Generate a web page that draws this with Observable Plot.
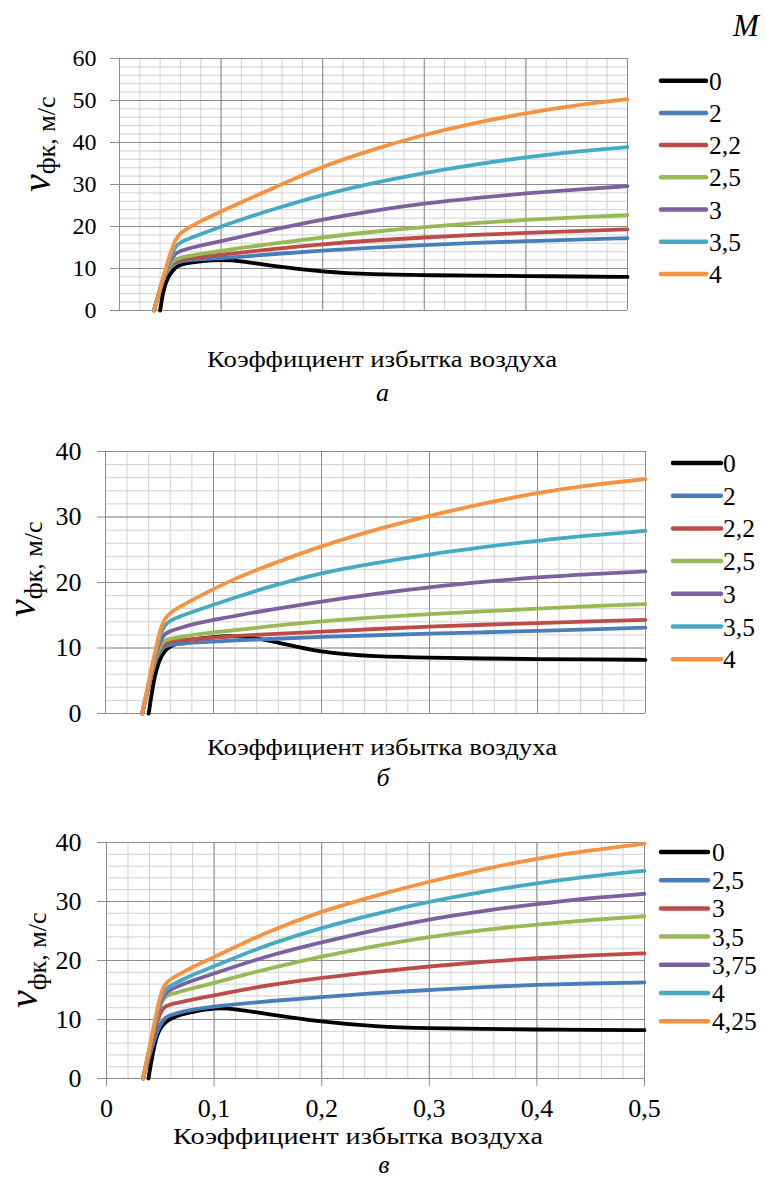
<!DOCTYPE html>
<html><head><meta charset="utf-8">
<script src="https://cdn.jsdelivr.net/npm/d3@7"></script>
<script src="https://cdn.jsdelivr.net/npm/@observablehq/plot@0.6"></script>
<style>
html,body{margin:0;padding:0;background:#fff;}
#root{position:relative;width:766px;height:1180px;overflow:hidden;background:#fff;font-family:"Liberation Serif";}
#root svg{position:absolute;left:0;}
#root svg text, #root svg tspan{font-family:"Liberation Serif" !important;}
</style></head><body><div id="root"></div>
<script>
// ---------- shared ----------
const palette = ["#000000","#4A7EBB","#BE4B48","#98B954","#7D60A0","#46AAC5","#F69240"];
const labelsA = ["0","2","2,2","2,5","3","3,5","4"];
const labelsB = ["0","2","2,2","2,5","3","3,5","4"];
const labelsC = ["0","2,5","3","3,5","3,75","4","4,25"];
const xMajor = [0,0.1,0.2,0.3,0.4,0.5];
const xMinor = d3.range(0,51,2).map(d=>d/100);
const yMajorA = [0,10,20,30,40,50,60];
const yMajorBC = [0,10,20,30,40];
const axisTitle = "Коэффициент избытка воздуха";

// ---------- chart a ----------
const xA0 = [0.04,0.043,0.048,0.055,0.06,0.07,0.08,0.1,0.12,0.15,0.2,0.25,0.3,0.35,0.4,0.45,0.5];
const xA  = [0.034,0.043,0.05,0.055,0.06,0.07,0.08,0.1,0.12,0.15,0.2,0.25,0.3,0.35,0.4,0.45,0.5];
const a_0   = [0,4.8,8.3,10.3,10.9,11.4,11.8,12.1,11.8,10.6,9.2,8.6,8.4,8.3,8.2,8.1,8.0];
const a_2   = [0,7.8,10.7,11.4,11.7,12.0,12.2,12.5,12.8,13.4,14.3,15.0,15.6,16.1,16.5,16.9,17.2];
const a_2_2 = [0,7.8,11.0,11.8,12.1,12.5,12.8,13.3,13.8,14.6,15.8,16.7,17.4,18.0,18.5,18.9,19.3];
const a_2_5 = [0,7.8,11.3,12.2,12.6,13.1,13.5,14.2,14.9,15.9,17.4,18.8,19.9,20.8,21.6,22.2,22.7];
const a_3   = [0,7.8,12.0,13.6,14.2,14.9,15.5,16.5,17.6,19.2,21.7,23.8,25.5,26.8,27.9,28.8,29.6];
const a_3_5 = [0,7.9,12.5,15.3,16.3,17.3,18.2,20.0,21.7,24.0,27.6,30.4,32.8,34.8,36.5,37.9,38.9];
const a_4   = [0,8.0,13.6,17.0,18.5,20.0,21.3,23.6,25.8,29.0,34.4,38.4,41.9,44.7,47.0,48.9,50.3];

// ---------- chart б ----------
const xB0 = [0.04,0.045,0.05,0.055,0.06,0.07,0.08,0.1,0.12,0.15,0.2,0.25,0.3,0.35,0.4,0.45,0.5];
const xB  = [0.034,0.044,0.05,0.055,0.06,0.07,0.08,0.1,0.12,0.15,0.2,0.25,0.3,0.35,0.4,0.45,0.5];
const b_0   = [0,5.5,8.3,9.6,10.3,10.9,11.3,11.7,11.9,11.3,9.2,8.7,8.5,8.4,8.3,8.25,8.2];
const b_2   = [0,7.0,9.7,10.3,10.5,10.65,10.8,11.0,11.15,11.35,11.7,11.95,12.2,12.4,12.6,12.85,13.1];
const b_2_2 = [0,7.2,10.0,10.8,11.0,11.2,11.35,11.6,11.85,12.1,12.5,12.9,13.3,13.55,13.8,14.05,14.3];
const b_2_5 = [0,7.3,10.3,11.2,11.4,11.7,12.0,12.4,12.7,13.3,14.1,14.7,15.2,15.6,16.0,16.4,16.7];
const b_3   = [0,7.5,11.0,12.2,12.6,13.1,13.6,14.3,14.9,15.8,17.1,18.3,19.3,20.1,20.8,21.3,21.7];
const b_3_5 = [0,7.5,11.8,13.6,14.2,14.9,15.5,16.6,17.7,19.3,21.5,23.0,24.3,25.4,26.4,27.2,27.9];
const b_4   = [0,8.0,12.6,14.6,15.4,16.4,17.3,19.0,20.6,22.6,25.6,28.1,30.2,32.1,33.7,34.9,35.8];

// ---------- chart в ----------
const xC0 = [0.039,0.045,0.05,0.055,0.06,0.07,0.08,0.1,0.12,0.15,0.2,0.25,0.3,0.35,0.4,0.45,0.5];
const xC  = [0.034,0.044,0.05,0.055,0.06,0.07,0.08,0.1,0.12,0.15,0.2,0.25,0.3,0.35,0.4,0.45,0.5];
const c_0    = [0,6.5,8.6,9.6,10.2,10.9,11.3,12.0,11.8,10.9,9.6,8.8,8.5,8.4,8.3,8.25,8.2];
const c_2_5  = [0,6.5,9.3,10.4,10.8,11.3,11.7,12.2,12.6,13.1,13.8,14.5,15.0,15.5,15.9,16.1,16.3];
const c_3    = [0,7.5,11.5,12.3,12.6,13.0,13.4,14.1,14.8,15.8,17.1,18.1,19.0,19.8,20.4,20.9,21.2];
const c_3_5  = [0,8.2,12.8,14.0,14.3,14.8,15.3,16.2,17.2,18.6,20.7,22.5,24.0,25.2,26.1,26.9,27.5];
const c_3_75 = [0,8.3,13.0,14.6,15.1,15.9,16.6,17.8,19.0,20.8,23.1,25.2,27.0,28.4,29.6,30.6,31.3];
const c_4    = [0,8.5,13.5,15.2,15.8,16.7,17.6,19.0,20.5,22.7,25.6,27.9,30.0,31.7,33.1,34.3,35.2];
const c_4_25 = [0,8.8,14.5,16.2,16.9,17.9,18.9,20.6,22.3,24.9,28.4,31.0,33.4,35.5,37.3,38.7,39.8];

function rowsOf(labels, xs, ys) {
  const out = [];
  labels.forEach((s, i) => xs[i].forEach((x, j) => out.push({s, x, y: ys[i][j]})));
  return out;
}
const rowsA = rowsOf(labelsA, [xA0,xA,xA,xA,xA,xA,xA], [a_0,a_2,a_2_2,a_2_5,a_3,a_3_5,a_4]);
const rowsB = rowsOf(labelsB, [xB0,xB,xB,xB,xB,xB,xB], [b_0,b_2,b_2_2,b_2_5,b_3,b_3_5,b_4]);
const rowsC = rowsOf(labelsC, [xC0,xC,xC,xC,xC,xC,xC], [c_0,c_2_5,c_3,c_3_5,c_3_75,c_4,c_4_25]);

const root = document.getElementById("root");
const FONT = "Liberation Serif";
const MINOR = "#d2d2d2", MAJOR = "#8c8c8c";
const fmt = d => d === 0 ? "0" : d.toFixed(1).replace(".", ",");

function chart(o) {
  const yMinor = d3.range(0, o.yMax + 1, 2);
  const marks = [
    Plot.ruleX(xMinor, {stroke: MINOR}),
    Plot.ruleY(yMinor, {stroke: MINOR}),
    Plot.ruleX(xMajor, {stroke: MAJOR}),
    Plot.ruleY(o.yMajor, {stroke: MAJOR}),
    Plot.axisY(o.yMajor, {tickSize: o.tickSize, tickPadding: o.tickPadding, stroke: MAJOR, fill: "#000", label: null, fontSize: o.tickFont}),
    Plot.line(o.rows, {x: "x", y: "y", z: "s", stroke: "s", strokeWidth: 3.8, curve: "basis", strokeLinecap: "round", strokeLinejoin: "round"})
  ];
  if (o.xAxis) marks.push(Plot.axisX(xMajor, {tickSize: 8, tickPadding: 12, stroke: MAJOR, fill: "#000", label: null, tickFormat: fmt, fontSize: o.tickFont}));
  const svg = Plot.plot({
    width: o.width, height: o.height,
    marginLeft: o.mL, marginRight: o.mR, marginTop: o.mT, marginBottom: o.mB,
    x: {domain: [0, 0.5], axis: null},
    y: {domain: [0, o.yMax], axis: null},
    color: {domain: o.labels, range: palette},
    style: {fontSize: o.tickFont + "px", color: "#000", background: "none", overflow: "visible"},
    marks
  });
  svg.setAttribute("font-family", FONT);
  svg.style.fontFamily = FONT;
  svg.querySelectorAll("text").forEach(t => t.setAttribute("font-family", FONT));
  svg.style.top = o.top + "px";
  root.appendChild(svg);
}

chart({rows: rowsA, labels: labelsA, yMax: 60, yMajor: yMajorA, top: 0, width: 640, height: 320, mL: 119, mR: 13, mT: 58, mB: 10, tickSize: 9, tickPadding: 14, tickFont: 24});
chart({rows: rowsB, labels: labelsB, yMax: 40, yMajor: yMajorBC, top: 400, width: 660, height: 330, mL: 105, mR: 15, mT: 51, mB: 17, tickSize: 8, tickPadding: 16, tickFont: 26});
chart({rows: rowsC, labels: labelsC, yMax: 40, yMajor: yMajorBC, top: 800, width: 660, height: 340, mL: 106, mR: 16, mT: 42, mB: 62, tickSize: 9, tickPadding: 16, tickFont: 26, xAxis: true});

// ---------- overlay texts & legends ----------
const ov = d3.select(root).append("svg").attr("width", 766).attr("height", 1180).style("top", "0px")
  .attr("font-family", FONT);

ov.append("text").attr("x", 733).attr("y", 36).attr("font-size", 31).attr("font-style", "italic").text("M");

function legend(labels, x1, x2, tx, y0, step, fs) {
  labels.forEach((l, i) => {
    const cy = y0 + i * step;
    ov.append("line").attr("x1", x1).attr("x2", x2).attr("y1", cy).attr("y2", cy)
      .attr("stroke", palette[i]).attr("stroke-width", 4.5).attr("stroke-linecap", "round");
    ov.append("text").attr("x", tx).attr("y", cy + 9).attr("font-size", fs).text(l);
  });
}
legend(labelsA, 661, 706, 709, 80.7, 32.2, 25.5);
legend(labelsB, 673, 721, 723, 463, 32.7, 25.5);
legend(labelsC, 661, 708, 712, 852, 28.2, 25.5);

function ylabel(xv, shift, yStart) {
  const t = ov.append("text").attr("transform", `translate(${xv},${yStart}) rotate(-90)`);
  t.append("tspan").attr("font-size", 40).attr("font-style", "italic").text("v");
  t.append("tspan").attr("font-size", 26).attr("dy", shift).text("фк, м/с");
}
ylabel(50, 5, 192);
ylabel(35, 7, 617);
ylabel(37, 9, 1008);

function title(x1, x2, y) {
  ov.append("text").attr("x", x1).attr("y", y).attr("font-size", 24)
    .attr("textLength", x2 - x1).attr("lengthAdjust", "spacingAndGlyphs").text(axisTitle);
}
title(207, 557, 367);
title(207, 557, 755);
title(173, 543, 1144);

function caption(x, y, s) {
  ov.append("text").attr("x", x).attr("y", y).attr("font-size", 26).attr("font-style", "italic")
    .attr("text-anchor", "middle").text(s);
}
caption(382.5, 401, "а");
caption(383, 786, "б");
caption(384, 1173, "в");
</script></body></html>
